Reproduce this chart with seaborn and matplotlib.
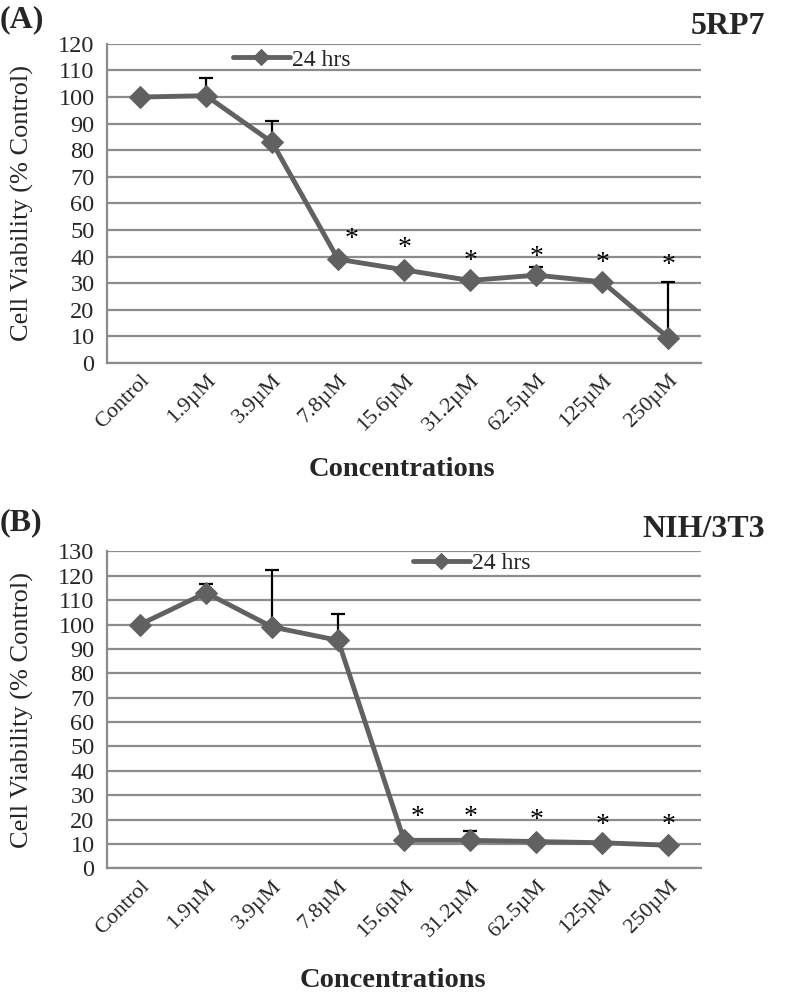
import numpy as np
import pandas as pd
import seaborn as sns
import matplotlib.pyplot as plt

# data
concs = ["Control", "1.9µM", "3.9µM", "7.8µM", "15.6µM", "31.2µM", "62.5µM", "125µM", "250µM"]

a_mean = [100, 100.5, 83, 39, 35, 31, 33, 30.5, 9.5]
a_err = [0, 6.5, 8, 0, 0, 0, 3, 0, 21]
a_star = [None, None, None, 46.5, 43, 38, 39.5, 37.5, 36.5]

b_mean = [100, 113, 99, 93.5, 11.5, 11.5, 11, 10.5, 9.5]
b_err = [0, 3.5, 23.5, 11, 0, 4, 0, 0, 0]
b_star = [None, None, None, None, 21, 21, 19.5, 17.5, 17.5]

sns.set_style("white")
plt.rcParams['font.family'] = ['Liberation Serif', 'DejaVu Serif']

fig = plt.figure(figsize=(7.87, 9.97), dpi=100)
ax1 = fig.add_axes([0.136, 0.636, 0.755, 0.320])
ax2 = fig.add_axes([0.136, 0.129, 0.755, 0.318])

grey = "#8c8c8c"
line_c = "#616161"

panels = [
    (ax1, a_mean, a_err, a_star, 120, 0.307, 0.95, 0.497, -0.335),
    (ax2, b_mean, b_err, b_star, 130, 0.61, 0.962, 0.481, -0.353),
]

for ax, mean, err, star, top, lx, ly, xlx, xly in panels:
    df = pd.DataFrame({"conc": concs, "viab": mean})
    x = np.arange(len(concs))
    ax.errorbar(x, mean, yerr=[np.zeros(len(err)), err], fmt="none",
                ecolor="black", elinewidth=1.6, capsize=5, capthick=1.6, zorder=2)
    sns.lineplot(data=df, x="conc", y="viab", sort=False, ax=ax, color=line_c,
                 lw=3.5, marker="D", markersize=11, markeredgecolor=line_c,
                 label="24 hrs", zorder=3)
    first = True
    for i, s in enumerate(star):
        if s is not None:
            # the first star after the big drop sits a little to the right
            dx = 0.2 if first else 0
            first = False
            ax.text(i + dx, s, "*", ha="center", va="center", fontsize=20,
                    color="black")

    ax.set_xlim(-0.5, len(concs) - 0.5)
    ax.set_ylim(0, top)
    ax.set_yticks(np.arange(0, top + 1, 10))
    ax.set_xticks(np.arange(len(concs) + 1) - 0.5, minor=False)
    ax.set_xticklabels([])
    ax.set_xticks(x, minor=True)
    ax.set_xticklabels(concs, minor=True, rotation=45, ha="right",
                       rotation_mode="anchor", fontsize=16)
    ax.tick_params(axis="x", which="minor", length=0, pad=6)
    ax.tick_params(axis="x", which="major", length=7, width=1.6, color=grey)
    ax.tick_params(axis="y", length=7, width=1.6, color=grey, labelsize=17.5, pad=2)
    ax.yaxis.grid(True, color=grey, lw=1.6)
    ax.xaxis.grid(False)
    for sp in ["top", "right"]:
        ax.spines[sp].set_visible(False)
    for sp in ["left", "bottom"]:
        ax.spines[sp].set_color(grey)
        ax.spines[sp].set_linewidth(1.6)
    ax.set_xlabel("Concentrations", fontsize=20.5, fontweight="bold", va="center")
    ax.xaxis.set_label_coords(xlx, xly)
    ax.set_ylabel("Cell Viability (% Control)", fontsize=19, va="center")
    ax.yaxis.set_label_coords(-0.143, 0.5)
    ax.legend(loc="center left", bbox_to_anchor=(lx - 0.115, ly), frameon=False,
              fontsize=17, handlelength=2.4, handletextpad=0.1, borderpad=0,
              markerscale=0.7)

fig.text(0.0, 0.980, "(A)", fontsize=23, fontweight="bold", va="center", ha="left")
fig.text(0.972, 0.973, "5RP7", fontsize=23, fontweight="bold", va="center", ha="right")
fig.text(0.0, 0.476, "(B)", fontsize=23, fontweight="bold", va="center", ha="left")
fig.text(0.972, 0.469, "NIH/3T3", fontsize=23, fontweight="bold", va="center", ha="right")

fig.savefig("out.png", dpi=100)
